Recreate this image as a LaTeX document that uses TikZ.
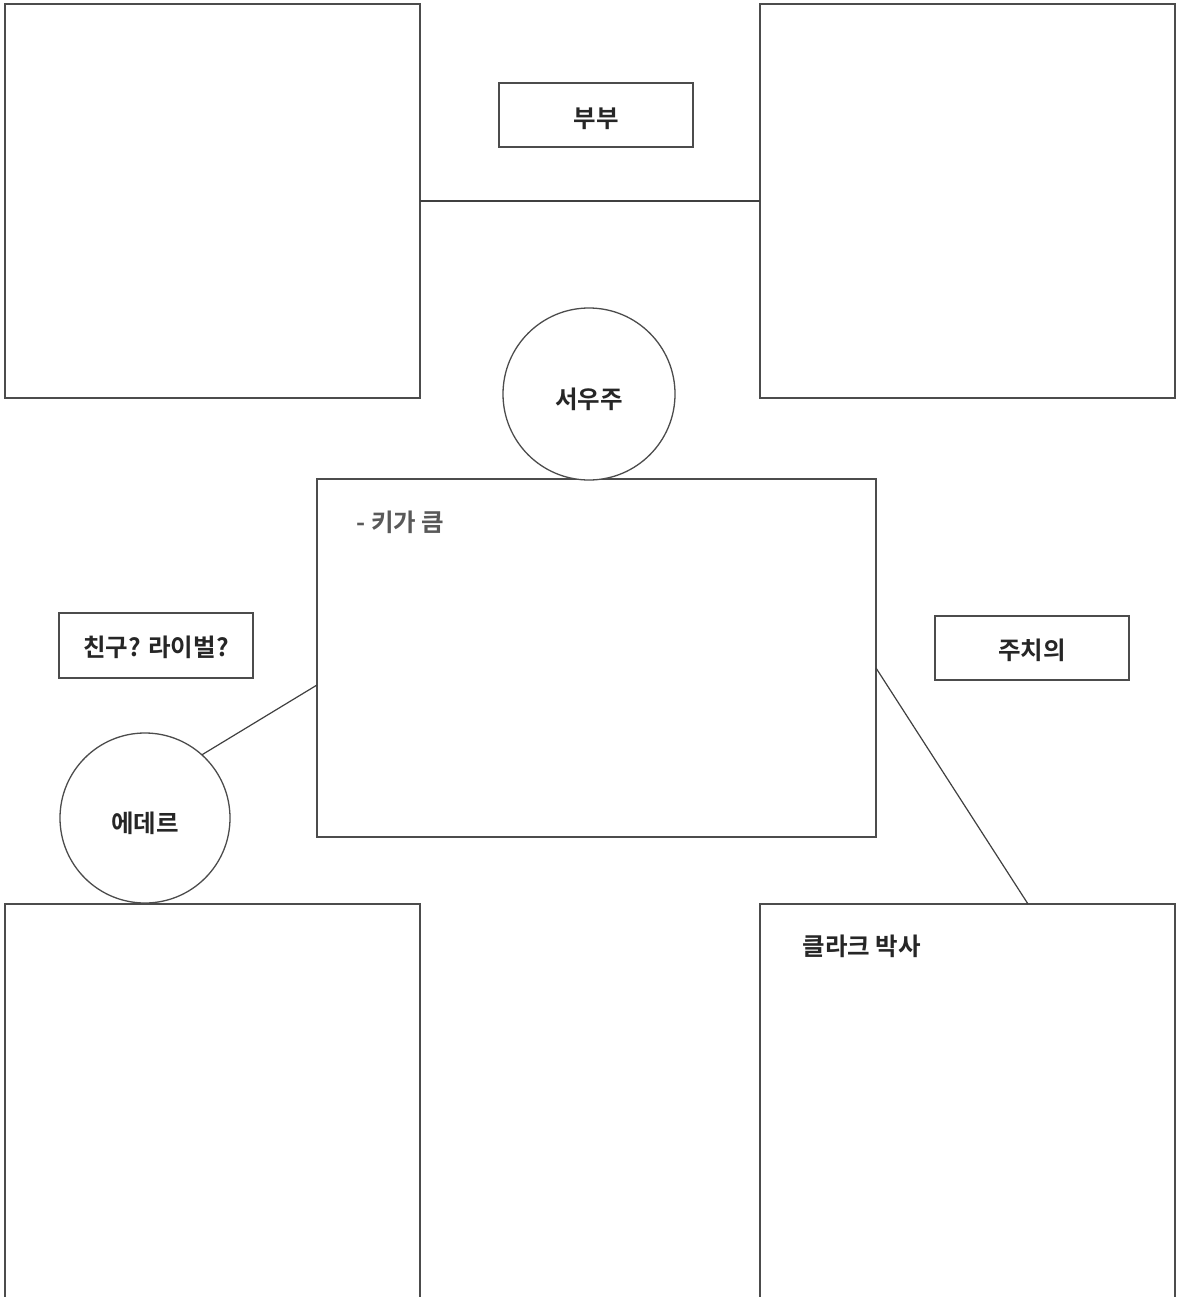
\documentclass[tikz,border=0pt]{standalone}
\usepackage{fontspec}
\newfontfamily\kr{Noto Sans CJK KR}[BoldFont={Noto Sans CJK KR Bold}]
\begin{document}
\begin{tikzpicture}[x=1pt,y=-1pt,
  line width=1.2pt,
  edge/.style={draw=black!75},
  frame/.style={draw=black!70, line width=1.3pt, inner sep=0pt, outer sep=0pt},
  lbl/.style={frame, anchor=north west},
  circ/.style={frame, circle},
  txt/.style={font=\kr\bfseries\fontsize{24.5}{28}\selectfont, text=black!85, anchor=west, inner sep=0pt}
]
\clip (0,0) rectangle (1179,1297);
\fill[white] (0,0) rectangle (1179,1297);
% big boxes
\node[frame, anchor=north west, minimum width=415pt, minimum height=394pt] (tl) at (5,4) {};
\node[frame, anchor=north west, minimum width=415pt, minimum height=394pt] (tr) at (760,4) {};
\node[frame, anchor=north west, minimum width=415pt, minimum height=420pt] (bl) at (5,904) {};
\node[frame, anchor=north west, minimum width=415pt, minimum height=420pt] (br) at (760,904) {};
\node[frame, anchor=north west, minimum width=559pt, minimum height=358pt] (ctr) at (317,479) {};
% label boxes
\node[lbl, minimum width=194pt, minimum height=64pt] (bubu) at (499,83) {};
\node[txt, anchor=center] (bubut) at ([yshift=-4pt]bubu.center) {부부};
\node[lbl, minimum width=194pt, minimum height=65pt] (rival) at (59,613) {};
\node[txt, anchor=center] (rivalt) at ([yshift=-2pt]rival.center) {친구? 라이벌?};
\node[lbl, minimum width=194pt, minimum height=64pt] (doc) at (935,616) {};
\node[txt, anchor=center] (doct) at ([yshift=-2pt]doc.center) {주치의};
% circles
\node[circ, minimum size=172pt, fill=white] (seo) at (589,394) {};
\node[txt, anchor=center] (seot) at ([yshift=-5pt]seo.center) {서우주};
\node[circ, minimum size=170pt, fill=white] (eder) at (145,818) {};
\node[txt, anchor=center] (edert) at ([yshift=-5pt]eder.center) {에데르};
% texts
\node[txt, text=black!65] (tall) at (356,522) {- 키가 큼};
\node[txt] (clark) at (802,946) {클라크 박사};
% connectors
\draw[edge] (tl.east) -- (tr.west);
\coordinate (cl) at (317,685);
\draw[edge] (cl) -- (eder.48);
\coordinate (cr) at (876,668);
\coordinate (brt) at (1028,904);
\draw[edge] (cr) -- (brt);
\end{tikzpicture}
\end{document}
